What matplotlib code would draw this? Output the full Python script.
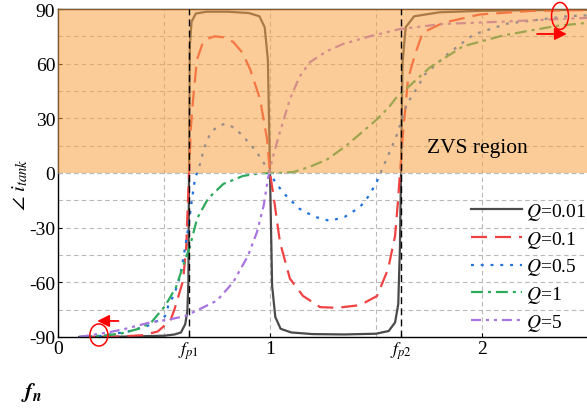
import matplotlib
matplotlib.use('Agg')
import matplotlib.pyplot as plt
from matplotlib.patches import Ellipse

plt.rcParams['font.family'] = ['Liberation Serif', 'DejaVu Serif']
plt.rcParams['mathtext.fontset'] = 'stix'

# normalised frequency points and tank current phase (deg)
f_001 = [0.10, 0.30, 0.50, 0.55, 0.58, 0.60, 0.61, 0.615, 0.618, 0.622, 0.63, 0.65, 0.70, 0.80, 0.90,
         0.95, 0.975, 0.99, 1.0, 1.01, 1.025, 1.05, 1.10, 1.20, 1.35, 1.50, 1.56, 1.59, 1.605, 1.613,
         1.618, 1.625, 1.64, 1.68, 1.80, 2.00, 2.30, 2.55]
ph_001 = [-90, -89.8, -89.3, -88.6, -87.5, -83, -76, -60, 0, 70, 83, 87.5, 88.5, 88.5, 87.8,
          86, 80, 62, 0, -62, -79, -85.5, -87.5, -88.4, -88.6, -88.2, -86.7, -82, -72, -40,
          0, 60, 80, 86, 88.2, 89, 89.4, 89.6]

f_01 = [0.10, 0.30, 0.40, 0.47, 0.53, 0.55, 0.59, 0.605, 0.618, 0.627, 0.637, 0.655, 0.68, 0.70, 0.74,
        0.78, 0.826, 0.87, 0.906, 0.953, 0.986, 1.0, 1.014, 1.047, 1.094, 1.156, 1.236, 1.316, 1.425,
        1.505, 1.557, 1.59, 1.604, 1.613, 1.627, 1.651, 1.684, 1.72, 1.816, 1.99, 2.24, 2.55]
ph_01 = [-90, -89.7, -89, -87, -81, -74.6, -59, -40, 0, 25, 40, 62, 70.5, 73.5, 75,
         74.5, 72, 66, 57, 40.6, 18.7, 0, -10.4, -38, -58, -67.5, -73.6, -74, -72.5,
         -67.5, -52.7, -34.5, -15, 0, 21, 51.6, 65, 77, 82.4, 87, 89, 89.5]

f_05 = [0.10, 0.20, 0.33, 0.42, 0.48, 0.505, 0.52, 0.55, 0.575, 0.591, 0.615, 0.63, 0.646, 0.67, 0.69,
        0.717, 0.75, 0.788, 0.82, 0.849, 0.906, 0.953, 1.0, 1.03, 1.08, 1.14, 1.21, 1.283, 1.354,
        1.425, 1.47, 1.505, 1.54, 1.57, 1.6, 1.646, 1.69, 1.73, 1.835, 1.96, 2.12, 2.4, 2.55]
ph_05 = [-90, -89.5, -87, -84, -80.5, -78.5, -73, -66, -57, -47, -29.6, -16, -3.3, 5, 14,
         21.4, 25.5, 27, 25.5, 23, 16, 8.8, 0, -6, -13, -19.7, -24, -26.3, -24,
         -18.6, -12, -4.4, 5, 13, 21.4, 37.9, 46, 54, 65, 76, 82, 86, 86.8]

f_1 = [0.10, 0.236, 0.30, 0.377, 0.44, 0.505, 0.557, 0.59, 0.623, 0.656, 0.708, 0.78, 0.873, 0.95,
       1.0, 1.05, 1.11, 1.19, 1.27, 1.36, 1.45, 1.5, 1.56, 1.6, 1.66, 1.755, 1.91, 2.1, 2.35, 2.55]
ph_1 = [-90, -89, -88, -85.6, -82, -73, -62.6, -51, -40, -25, -14, -6, -1.6, -0.2,
        0, 0.1, 0.5, 3.5, 7.5, 15, 24, 29, 36, 42, 48, 58, 69.5, 75.5, 80.7, 83]

f_5 = [0.10, 0.236, 0.315, 0.434, 0.52, 0.60, 0.67, 0.75, 0.826, 0.896, 0.938, 0.97, 0.99, 1.014,
       1.047, 1.094, 1.14, 1.19, 1.27, 1.345, 1.47, 1.613, 1.816, 2.085, 2.46, 2.55]
ph_5 = [-90, -87.5, -85.6, -82, -80.5, -78.5, -74.6, -70, -60, -45.5, -32.6, -18, -3.3, 9,
        22.5, 40.6, 53, 61, 67, 70.8, 75, 79, 81.8, 83, 85, 85.3]

fp1 = 0.618
fp2 = 1.618
xticks = [0, fp1, 1, fp2, 2]
xtick_labels = ['0', r'$f_{p1}$', '1', r'$f_{p2}$', '2']
yticks = [-90, -60, -30, 0, 30, 60, 90]
ytick_labels = ['-90', '-60', '-30', '0', '30', '60', '90']

fig = plt.figure(figsize=(5.87, 4.10), dpi=100)
ax = fig.add_axes([58 / 587, 72 / 410, 0.93, 328 / 410])
xmax = 0.93 * 587 / 212
ax.set_xlim(0, xmax)
ax.set_ylim(-90, 90)

for v in [0.5, 1, 1.5, 2, 2.5]:
    ax.axvline(v, color='#b8b8b8', lw=0.8, ls=(0, (4, 3)), zorder=0.5)
for v in range(-75, 90, 15):
    ax.axhline(v, color='#b8b8b8', lw=0.8, ls=(0, (4, 3)), zorder=0.5)

lw = 1.6
ax.plot(f_001, ph_001, color='#4a4a4a', lw=lw, label=r'$Q$=0.01', zorder=2)
ax.plot(f_01, ph_01, color='#f04242', lw=lw, dashes=(7.2, 3.6), label=r'$Q$=0.1', zorder=2)
ax.plot(f_05, ph_05, color='#1f72dc', lw=lw, dashes=(1.3, 3.1), label=r'$Q$=0.5', zorder=2)
ax.plot(f_1, ph_1, color='#2eaa5c', lw=lw, dashes=(5.4, 2.2, 1.4, 2.2), label=r'$Q$=1', zorder=2)
ax.plot(f_5, ph_5, color='#a874e0', lw=lw, dashes=(4.5, 2.2, 1.4, 2.2, 1.4, 2.2), label=r'$Q$=5', zorder=2)

# ZVS region shading on top of the curves
ax.axhspan(0, 90, color='#f9a244', alpha=0.55, lw=0, zorder=3)
ax.axhline(0, color='#b8b8b8', lw=0.8, ls=(0, (4, 3)), zorder=3.5)

ax.axvline(fp1, color='black', lw=1.0, ls=(0, (5, 3)), zorder=4)
ax.axvline(fp2, color='black', lw=1.0, ls=(0, (5, 3)), zorder=4)

ax.text(1.976, 14, 'ZVS region', fontsize=15.5, ha='center', va='center', zorder=5)

# red markers with arrows
ax.add_patch(Ellipse((2.368, 86.2), 0.080, 14.8, fill=False, ec='red', lw=1.1, clip_on=False, zorder=6))
ax.annotate('', xy=(2.40, 76.3), xytext=(2.26, 76.3),
            arrowprops=dict(arrowstyle='-|>', color='red', lw=1.3, mutation_scale=18,
                            shrinkA=0, shrinkB=0), zorder=6)
ax.add_patch(Ellipse((0.193, -88.9), 0.085, 12.1, fill=False, ec='red', lw=1.1, clip_on=False, zorder=6))
ax.annotate('', xy=(0.185, -81.2), xytext=(0.285, -81.2),
            arrowprops=dict(arrowstyle='-|>', color='red', lw=1.3, mutation_scale=18,
                            shrinkA=0, shrinkB=0), zorder=6)

ax.set_xticks(xticks)
ax.set_xticklabels(xtick_labels)
ax.set_yticks(yticks)
ax.set_yticklabels(ytick_labels)
ax.tick_params(direction='in', length=3, labelsize=14, pad=2)
for lab in ax.get_xticklabels():
    if lab.get_text().startswith('$'):
        lab.set_fontsize(13)

for s in ax.spines.values():
    s.set_linewidth(1.0)

leg = ax.legend(loc='lower right', frameon=False, fontsize=14, handlelength=2.6, labelspacing=0.35,
                handletextpad=0.2, borderaxespad=0, borderpad=0)
leg.set_bbox_to_anchor((586 / 587, 76 / 410), transform=fig.transFigure)

fig.text(20 / 587, 1 - 185 / 410, r'$\angle\ i_{tank}$', rotation=90, fontsize=15,
         ha='center', va='center')
fig.text(32 / 587, 1 - 393 / 410, r'$\mathbfit{f}_{\mathbfit{n}}$', fontsize=16,
         ha='center', va='center')

fig.savefig('out.png', dpi=100)
